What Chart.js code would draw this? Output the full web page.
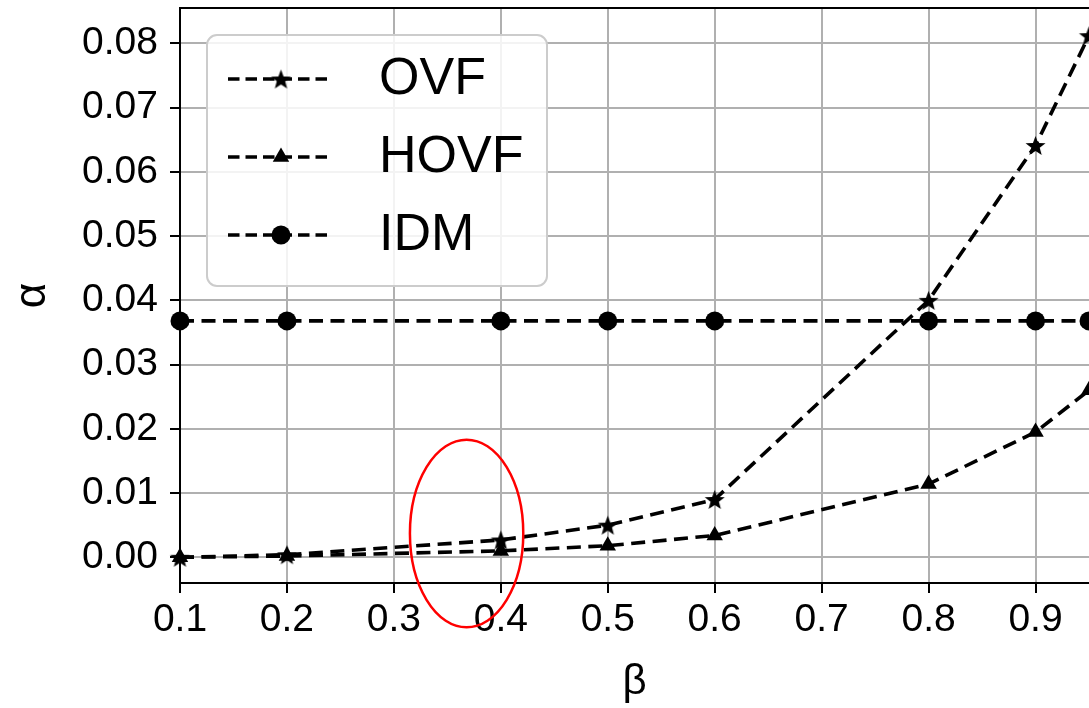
<!DOCTYPE html>
<html>
<head>
<meta charset="utf-8">
<title>alpha vs beta</title>
<script src="https://cdn.jsdelivr.net/npm/chart.js@4.4.0/dist/chart.umd.min.js"></script>
<style>
  body { margin: 0; background: #fff; }
</style>
</head>
<body>
<canvas id="alphaChart" width="1089" height="708"></canvas>
<script>
// beta values where the three models were evaluated
const betaValues = [0.1, 0.2, 0.4, 0.5, 0.6, 0.8, 0.9, 0.95];
const ovfAlpha = [0.0, 0.0004, 0.0027, 0.005, 0.009, 0.040, 0.0641, 0.0812];
const hovfAlpha = [0.0, 0.0002, 0.001, 0.0018, 0.0034, 0.0114, 0.0195, 0.026];
const idmAlpha = [0.0368, 0.0368, 0.0368, 0.0368, 0.0368, 0.0368, 0.0368, 0.0368];
const seriesNames = ["OVF", "HOVF", "IDM"];

// axes
const xTicks = [0.1, 0.2, 0.3, 0.4, 0.5, 0.6, 0.7, 0.8, 0.9];
const yTicks = [0.0, 0.01, 0.02, 0.03, 0.04, 0.05, 0.06, 0.07, 0.08];
const xRange = [0.1, 0.95];
const yRange = [-0.004, 0.0855];

// red ellipse around the region of interest (centre and half widths, data units)
const highlightCenter = [0.368, 0.0037];
const highlightRadius = [0.053, 0.0146];

Chart.defaults.font.family = "'Liberation Sans', Arial, sans-serif";
Chart.defaults.color = "#000";

// filled 5 point star like matplotlib's '*'
function makeStar(outer) {
  const size = Math.ceil(outer * 2 + 2);
  const c = document.createElement("canvas");
  c.width = size;
  c.height = size;
  const g = c.getContext("2d");
  const inner = outer * 0.42;
  g.beginPath();
  for (let i = 0; i < 10; i++) {
    const r = i % 2 === 0 ? outer : inner;
    const a = -Math.PI / 2 + i * Math.PI / 5;
    const px = size / 2 + r * Math.cos(a);
    const py = size / 2 + 1 + r * Math.sin(a);
    if (i === 0) g.moveTo(px, py); else g.lineTo(px, py);
  }
  g.closePath();
  g.fillStyle = "#000";
  g.fill();
  return c;
}

const starMarker = makeStar(10.5);

function toPoints(values) {
  return betaValues.map((b, i) => ({ x: b, y: values[i] }));
}

function lineSeries(label, values, style, radius) {
  return {
    label: label,
    data: toPoints(values),
    borderColor: "#000",
    backgroundColor: "#000",
    borderWidth: 3.6,
    borderDash: [14, 7.5],
    pointStyle: style,
    pointRadius: radius,
    pointBorderWidth: 0,
    pointBackgroundColor: "#000",
    tension: 0,
    clip: false,
  };
}

// legend box drawn inside the plot, matplotlib style
const legendBox = {
  id: "legendBox",
  afterDatasetsDraw(chart) {
    const { ctx, chartArea } = chart;
    const x = chartArea.left + 27;
    const y = chartArea.top + 27;
    ctx.save();
    ctx.beginPath();
    ctx.roundRect(x, y, 340, 251, 10);
    ctx.fillStyle = "rgba(255,255,255,0.85)";
    ctx.fill();
    ctx.strokeStyle = "#cccccc";
    ctx.lineWidth = 2;
    ctx.stroke();

    chart.data.datasets.forEach((ds, i) => {
      const rowY = y + 44 + i * 78;
      ctx.strokeStyle = "#000";
      ctx.lineWidth = 3.4;
      ctx.setLineDash([11.5, 6]);
      ctx.beginPath();
      ctx.moveTo(x + 21, rowY);
      ctx.lineTo(x + 124, rowY);
      ctx.stroke();
      ctx.setLineDash([]);
      ctx.fillStyle = "#000";
      Chart.helpers.drawPoint(ctx, { pointStyle: ds.pointStyle, radius: ds.pointRadius, borderWidth: 0, rotation: 0 }, x + 74, rowY);
      ctx.font = "52px 'Liberation Sans', Arial, sans-serif";
      ctx.textAlign = "left";
      ctx.textBaseline = "middle";
      ctx.fillText(ds.label, x + 172, rowY + 1);
    });
    ctx.restore();
  },
};

// top spine + red ellipse
const extras = {
  id: "extras",
  afterDraw(chart) {
    const { ctx, chartArea } = chart;
    const xs = chart.scales.x;
    const ys = chart.scales.y;
    ctx.save();
    ctx.strokeStyle = "#000";
    ctx.lineWidth = 2;
    ctx.beginPath();
    ctx.moveTo(chartArea.left, chartArea.top);
    ctx.lineTo(chartArea.right, chartArea.top);
    ctx.stroke();

    const cx = xs.getPixelForValue(highlightCenter[0]);
    const cy = ys.getPixelForValue(highlightCenter[1]);
    const rx = Math.abs(xs.getPixelForValue(highlightCenter[0] + highlightRadius[0]) - cx);
    const ry = Math.abs(ys.getPixelForValue(highlightCenter[1] + highlightRadius[1]) - cy);
    ctx.strokeStyle = "#ff0000";
    ctx.lineWidth = 2.5;
    ctx.beginPath();
    ctx.ellipse(cx, cy, rx, ry, 0, 0, Math.PI * 2);
    ctx.stroke();
    ctx.restore();
  },
};

const ctx = document.getElementById("alphaChart").getContext("2d");

new Chart(ctx, {
  type: "line",
  data: {
    datasets: [
      lineSeries(seriesNames[0], ovfAlpha, starMarker, 8),
      lineSeries(seriesNames[1], hovfAlpha, "triangle", 9.5),
      lineSeries(seriesNames[2], idmAlpha, "circle", 9.5),
    ],
  },
  options: {
    responsive: false,
    animation: false,
    layout: { autoPadding: false, padding: { top: 8, left: 0, right: 0, bottom: 0 } },
    plugins: {
      legend: { display: false },
      tooltip: { enabled: false },
    },
    scales: {
      x: {
        type: "linear",
        min: xRange[0],
        max: xRange[1],
        afterBuildTicks: axis => { axis.ticks = xTicks.map(v => ({ value: v })); },
        afterFit: axis => {
          axis.height = 125;
          axis.paddingLeft = 0;
          axis.paddingRight = 0;
        },
        ticks: {
          font: { size: 39 },
          color: "#000",
          padding: 4,
          maxRotation: 0,
          autoSkip: false,
          callback: v => Number(v).toFixed(1),
        },
        grid: { color: "#b0b0b0", lineWidth: 2, tickColor: "#000", tickLength: 10, tickWidth: 2 },
        border: { color: "#000", width: 2 },
        title: { display: true, text: "β", font: { size: 42 }, color: "#000", padding: 0 },
      },
      y: {
        type: "linear",
        min: yRange[0],
        max: yRange[1],
        afterBuildTicks: axis => { axis.ticks = yTicks.map(v => ({ value: v })); },
        afterFit: axis => {
          axis.width = 180;
          axis.paddingTop = 0;
          axis.paddingBottom = 0;
        },
        ticks: {
          font: { size: 39 },
          color: "#000",
          padding: 12,
          callback: v => Number(v).toFixed(2),
        },
        grid: { color: "#b0b0b0", lineWidth: 2, tickColor: "#000", tickLength: 10, tickWidth: 2 },
        border: { color: "#000", width: 2 },
        title: { display: true, text: "α", font: { size: 44 }, color: "#000", padding: { top: 6, bottom: 0 } },
      },
    },
  },
  plugins: [legendBox, extras],
});
</script>
</body>
</html>
